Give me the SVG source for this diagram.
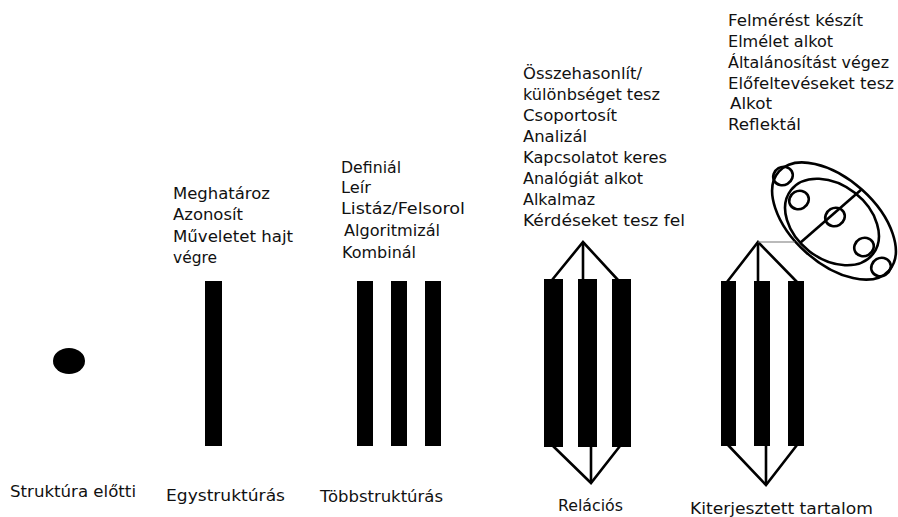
<svg xmlns="http://www.w3.org/2000/svg" width="898" height="517" viewBox="0 0 898 517">
<style>
text{font-family:"DejaVu Sans","Liberation Sans",sans-serif;font-size:16px;fill:#111}
.bar{fill:#000}
.ln{fill:none;stroke:#000;stroke-width:2.6;stroke-linejoin:miter}
.thin{fill:none;stroke:#777;stroke-width:1.2}
.o{fill:none;stroke:#000;stroke-width:2.6}
</style>
<rect width="898" height="517" fill="#fff"/>
<g id="pre">
<ellipse cx="69" cy="361" rx="16" ry="13" fill="#000"/>
<text x="10" y="497" textLength="126" lengthAdjust="spacingAndGlyphs">Struktúra előtti</text>
</g>
<g id="uni">
<text x="173" y="199" textLength="97" lengthAdjust="spacingAndGlyphs">Meghatároz</text>
<text x="173" y="220" textLength="70" lengthAdjust="spacingAndGlyphs">Azonosít</text>
<text x="173" y="242" textLength="120" lengthAdjust="spacingAndGlyphs">Műveletet hajt</text>
<text x="173" y="263" textLength="44" lengthAdjust="spacingAndGlyphs">végre</text>
<rect class="bar" x="205" y="281" width="17" height="165"/>
<text x="166" y="501" textLength="119" lengthAdjust="spacingAndGlyphs">Egystruktúrás</text>
</g>
<g id="multi">
<text x="341" y="173" textLength="60" lengthAdjust="spacingAndGlyphs">Definiál</text>
<text x="341" y="193" textLength="30" lengthAdjust="spacingAndGlyphs">Leír</text>
<text x="341" y="214" textLength="124" lengthAdjust="spacingAndGlyphs">Listáz/Felsorol</text>
<text x="344" y="236" textLength="96" lengthAdjust="spacingAndGlyphs">Algoritmizál</text>
<text x="342" y="258" textLength="74" lengthAdjust="spacingAndGlyphs">Kombinál</text>
<rect class="bar" x="357" y="281" width="16" height="165"/>
<rect class="bar" x="391" y="281" width="16" height="165"/>
<rect class="bar" x="425" y="281" width="16" height="165"/>
<text x="320" y="502" textLength="123" lengthAdjust="spacingAndGlyphs">Többstruktúrás</text>
</g>
<g id="rel">
<text x="523" y="79" textLength="119" lengthAdjust="spacingAndGlyphs">Összehasonlít/</text>
<text x="523" y="100" textLength="137" lengthAdjust="spacingAndGlyphs">különbséget tesz</text>
<text x="523" y="121" textLength="94" lengthAdjust="spacingAndGlyphs">Csoportosít</text>
<text x="523" y="142" textLength="64" lengthAdjust="spacingAndGlyphs">Analizál</text>
<text x="523" y="163" textLength="144" lengthAdjust="spacingAndGlyphs">Kapcsolatot keres</text>
<text x="523" y="184" textLength="120" lengthAdjust="spacingAndGlyphs">Analógiát alkot</text>
<text x="523" y="205" textLength="72" lengthAdjust="spacingAndGlyphs">Alkalmaz</text>
<text x="523" y="226" textLength="162" lengthAdjust="spacingAndGlyphs">Kérdéseket tesz fel</text>
<rect class="bar" x="544" y="279" width="19" height="168"/>
<rect class="bar" x="578" y="279" width="19" height="168"/>
<rect class="bar" x="612" y="279" width="19" height="168"/>
<text x="558" y="511" textLength="65" lengthAdjust="spacingAndGlyphs">Relációs</text>
</g>
<g id="ext">
<text x="728" y="26" textLength="135" lengthAdjust="spacingAndGlyphs">Felmérést készít</text>
<text x="728" y="47" textLength="105" lengthAdjust="spacingAndGlyphs">Elmélet alkot</text>
<text x="728" y="68" textLength="161" lengthAdjust="spacingAndGlyphs">Általánosítást végez</text>
<text x="728" y="89" textLength="166" lengthAdjust="spacingAndGlyphs">Előfeltevéseket tesz</text>
<text x="730" y="109" textLength="42" lengthAdjust="spacingAndGlyphs">Alkot</text>
<text x="728" y="130" textLength="73" lengthAdjust="spacingAndGlyphs">Reflektál</text>
<rect class="bar" x="721" y="281" width="15" height="165"/>
<rect class="bar" x="754" y="281" width="16" height="165"/>
<rect class="bar" x="788" y="281" width="16" height="165"/>
<g id="abstract">
<ellipse class="o" cx="834" cy="221" rx="74" ry="42" transform="rotate(42 834 221)"/>
<ellipse class="o" cx="832" cy="222" rx="52" ry="37" transform="rotate(38 832 222)"/>
<line class="o" x1="800" y1="243" x2="862" y2="189"/>
<ellipse class="o" cx="783" cy="176" rx="10" ry="9" transform="rotate(-30 783 176)"/>
<ellipse class="o" cx="799" cy="200" rx="10" ry="9" transform="rotate(-30 799 200)"/>
<ellipse class="o" cx="835" cy="217" rx="10" ry="9" transform="rotate(-30 835 217)"/>
<ellipse class="o" cx="864" cy="247" rx="10" ry="9" transform="rotate(-30 864 247)"/>
<ellipse class="o" cx="881" cy="267" rx="10" ry="9" transform="rotate(-30 881 267)"/>
</g>
<text x="690" y="514" textLength="183" lengthAdjust="spacingAndGlyphs">Kiterjesztett tartalom</text>
</g>
<g id="connectors">
<polyline class="ln" points="552,280 583,242 618,280"/>
<line class="ln" x1="583" y1="242" x2="583" y2="280"/>
<polyline class="ln" points="553,446 591,483 620,446"/>
<line class="ln" x1="591" y1="446" x2="591" y2="483"/>
<polyline class="ln" points="727,282 758,242 797,282"/>
<line class="ln" x1="758" y1="242" x2="758" y2="282"/>
<polyline class="ln" points="728,445 766,485 797,445"/>
<line class="ln" x1="766" y1="445" x2="766" y2="485"/>
<line class="thin" x1="758" y1="242" x2="795" y2="242"/>
</g>
</svg>
